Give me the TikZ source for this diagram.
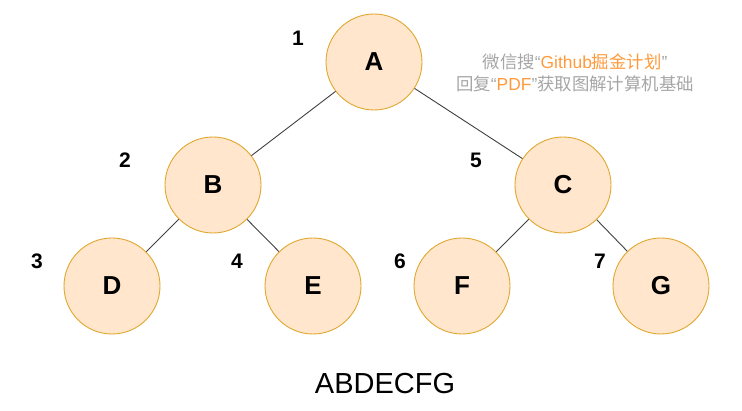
\documentclass[tikz,border=0pt]{standalone}
\usepackage{fontspec}
\setmainfont{Liberation Sans}
\newfontfamily\cjk{Noto Sans CJK SC}
\usepackage{tikz}
\definecolor{nodefill}{HTML}{FFE6CC}
\definecolor{nodeline}{HTML}{E0A830}
\definecolor{markgray}{HTML}{A6A6A6}
\definecolor{markorange}{HTML}{FF9A3C}

\begin{document}
\begin{tikzpicture}[x=1pt, y=-1pt,
        treenode/.style={circle, draw=nodeline, fill=nodefill, line width=0.9pt,
            minimum size=96pt, inner sep=0pt, font=\fontsize{26}{26}\selectfont\bfseries},
        order/.style={font=\fontsize{21}{21}\selectfont\bfseries},
        watermark/.style={markgray, font=\fontsize{17.4}{17.4}\selectfont},
        edge/.style={draw=black!75, line width=0.9pt}]
        \useasboundingbox (0,0) rectangle (742,411);

        % Tree nodes
        \node[treenode] (A) at (374, 62) {A};
        \node[treenode] (B) at (213, 185) {B};
        \node[treenode] (C) at (563, 185) {C};
        \node[treenode] (D) at (112, 286) {D};
        \node[treenode] (E) at (313, 286) {E};
        \node[treenode] (F) at (462, 286) {F};
        \node[treenode] (G) at (661, 286) {G};

        % Edges
        \draw[edge] (A) -- (B);
        \draw[edge] (A) -- (C);
        \draw[edge] (B) -- (D);
        \draw[edge] (B) -- (E);
        \draw[edge] (C) -- (F);
        \draw[edge] (C) -- (G);

        % Visiting order
        \node[order] (n1) at (298, 38) {1};
        \node[order] (n2) at (125, 160) {2};
        \node[order] (n3) at (37, 261) {3};
        \node[order] (n4) at (237, 261) {4};
        \node[order] (n5) at (476, 160) {5};
        \node[order] (n6) at (400, 261) {6};
        \node[order] (n7) at (600, 261) {7};

        % Watermark
        \node[watermark] (mark1) at (575, 62)
            {{\cjk 微信搜}“\textcolor{markorange}{Github{\cjk 掘金计划}}”};
        \node[watermark] (mark2) at (575, 84)
            {{\cjk 回复}“\textcolor{markorange}{PDF}”{\cjk 获取图解计算机基础}};

        % Traversal result
        \node[font=\fontsize{29}{29}\selectfont] (result) at (385, 384) {ABDECFG};
    \end{tikzpicture}
\end{document}
